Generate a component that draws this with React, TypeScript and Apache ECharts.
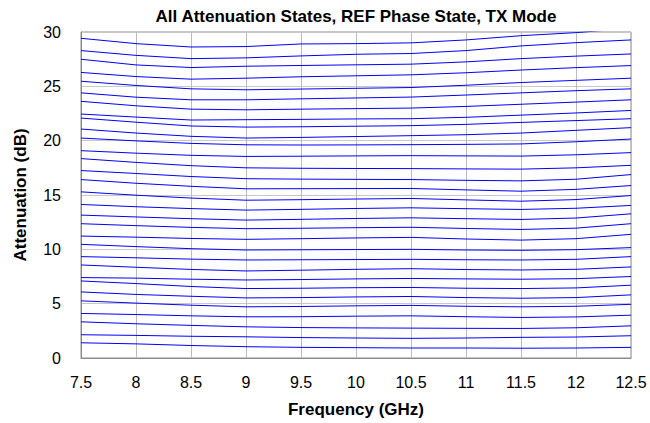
import React, { useEffect, useRef } from "react";
import * as echarts from "echarts";

// Frequency points (GHz)
const FREQS = [7.5, 8, 8.5, 9, 9.5, 10, 10.5, 11, 11.5, 12, 12.5];

// Attenuation (dB) per attenuation state, read at each frequency point
const s00 = [1.4, 1.3, 1.15, 1.04, 0.98, 0.95, 0.92, 0.92, 0.9, 0.92, 0.98];
const s01 = [2.14, 2.08, 2.0, 1.95, 1.88, 1.84, 1.81, 1.84, 1.9, 1.93, 2.05];
const s02 = [3.33, 3.15, 3.0, 2.87, 2.8, 2.77, 2.75, 2.73, 2.72, 2.78, 2.96];
const s03 = [4.1, 4.0, 3.88, 3.79, 3.8, 3.85, 3.88, 3.8, 3.73, 3.78, 3.94];
const s04 = [5.26, 5.05, 4.86, 4.71, 4.74, 4.8, 4.84, 4.76, 4.71, 4.76, 4.94];
const s05 = [6.08, 5.85, 5.68, 5.53, 5.56, 5.62, 5.66, 5.56, 5.5, 5.56, 5.81];
const s06 = [7.09, 6.85, 6.58, 6.39, 6.42, 6.47, 6.49, 6.42, 6.39, 6.45, 6.7];
const s07 = [7.4, 7.35, 7.25, 7.18, 7.22, 7.28, 7.32, 7.28, 7.25, 7.3, 7.5];
const s08 = [8.56, 8.35, 8.15, 8.01, 8.08, 8.16, 8.22, 8.14, 8.1, 8.16, 8.38];
const s09 = [9.33, 9.22, 9.1, 9.02, 9.04, 9.06, 9.08, 9.04, 9.02, 9.08, 9.33];
const s10 = [10.46, 10.25, 10.06, 9.94, 9.96, 9.98, 10.0, 9.94, 9.91, 9.97, 10.16];
const s11 = [11.22, 11.12, 11.0, 10.92, 10.98, 11.05, 11.1, 10.95, 10.85, 10.98, 11.38];
const s12 = [12.36, 12.18, 12.02, 11.9, 11.94, 11.99, 12.03, 11.92, 11.83, 11.95, 12.36];
const s13 = [13.15, 12.98, 12.82, 12.69, 12.76, 12.84, 12.9, 12.82, 12.75, 12.88, 13.27];
const s14 = [14.13, 13.92, 13.75, 13.61, 13.68, 13.76, 13.82, 13.74, 13.67, 13.78, 14.04];
const s15 = [15.29, 14.98, 14.72, 14.52, 14.57, 14.63, 14.68, 14.55, 14.43, 14.58, 14.95];
const s16 = [16.42, 16.08, 15.8, 15.57, 15.58, 15.59, 15.6, 15.47, 15.35, 15.52, 15.87];
const s17 = [17.25, 16.98, 16.7, 16.5, 16.46, 16.44, 16.42, 16.35, 16.3, 16.45, 16.88];
const s18 = [18.35, 18.0, 17.7, 17.5, 17.46, 17.44, 17.43, 17.4, 17.38, 17.5, 17.73];
const s19 = [19.08, 18.85, 18.65, 18.55, 18.57, 18.6, 18.62, 18.6, 18.58, 18.7, 18.9];
const s20 = [20.24, 19.98, 19.75, 19.62, 19.6, 19.61, 19.63, 19.66, 19.7, 19.9, 20.15];
const s21 = [21.07, 20.7, 20.4, 20.24, 20.3, 20.38, 20.46, 20.55, 20.7, 20.95, 21.2];
const s22 = [22.08, 21.7, 21.35, 21.25, 21.28, 21.33, 21.38, 21.5, 21.68, 21.85, 22.02];
const s23 = [22.45, 22.17, 21.9, 21.93, 21.96, 22.0, 22.02, 22.15, 22.35, 22.55, 22.78];
const s24 = [23.62, 23.21, 22.9, 22.84, 22.9, 22.95, 23.0, 23.15, 23.35, 23.55, 23.76];
const s25 = [24.4, 24.0, 23.76, 23.76, 23.85, 23.93, 24.01, 24.2, 24.4, 24.6, 24.77];
const s26 = [25.47, 25.08, 24.77, 24.68, 24.75, 24.82, 24.89, 25.1, 25.35, 25.55, 25.75];
const s27 = [26.28, 25.9, 25.66, 25.75, 25.88, 25.97, 26.06, 26.25, 26.5, 26.72, 26.91];
const s28 = [27.49, 26.97, 26.73, 26.85, 26.92, 26.98, 27.04, 27.25, 27.55, 27.78, 27.98];
const s29 = [28.29, 27.85, 27.55, 27.62, 27.8, 27.95, 28.02, 28.29, 28.72, 29.02, 29.27];
const s30 = [29.42, 28.93, 28.62, 28.66, 28.9, 28.93, 29.0, 29.27, 29.66, 29.94, 30.35];

const STATES = [
  s00, s01, s02, s03, s04, s05, s06, s07, s08, s09, s10,
  s11, s12, s13, s14, s15, s16, s17, s18, s19, s20,
  s21, s22, s23, s24, s25, s26, s27, s28, s29, s30,
];

const TITLE = "All Attenuation States, REF Phase State, TX Mode";
const X_NAME = "Frequency (GHz)";
const Y_NAME = "Attenuation (dB)";
const FONT = "'Liberation Sans', Arial, Helvetica, sans-serif";

export default function App() {
  const ref = useRef<HTMLDivElement>(null);

  useEffect(() => {
    if (!ref.current) return;
    const chart = echarts.init(ref.current, undefined, { renderer: "svg" });
    const series = STATES.map((vals, i) => ({
      name: `State ${i}`,
      type: "line",
      data: FREQS.map((f, j) => [f, vals[j]]),
      showSymbol: false,
      symbol: "none",
      clip: true,
      lineStyle: { color: "#0000ff", width: 1 },
      itemStyle: { color: "#0000ff" },
      emphasis: { disabled: true },
      z: 3,
    }));
    chart.setOption({
      animation: false,
      backgroundColor: "#ffffff",
      textStyle: { fontFamily: FONT },
      grid: {
        left: 81,
        right: 19,
        top: 32,
        bottom: 64,
        show: true,
        borderColor: "#8c8c8c",
        borderWidth: 1,
        backgroundColor: "transparent",
      },
      graphic: [
        {
          type: "text",
          x: 356,
          y: 16,
          style: {
            text: TITLE,
            fontSize: 17,
            fontWeight: "bold",
            fontFamily: FONT,
            fill: "#000",
            align: "center",
            verticalAlign: "middle",
            textAlign: "center",
            textVerticalAlign: "middle",
          },
        },
      ],
      xAxis: {
        type: "value",
        min: 7.5,
        max: 12.5,
        interval: 0.5,
        name: X_NAME,
        nameLocation: "middle",
        nameGap: 43,
        nameTextStyle: { fontSize: 17, fontWeight: "bold", color: "#000", fontFamily: FONT },
        axisLine: { show: true, lineStyle: { color: "#8c8c8c" } },
        axisTick: { show: false },
        axisLabel: { fontSize: 16, color: "#000", margin: 16, fontFamily: FONT },
        splitLine: { show: true, lineStyle: { color: "#bdbdbd", width: 1 } },
      },
      yAxis: {
        type: "value",
        min: 0,
        max: 30,
        interval: 5,
        name: Y_NAME,
        nameLocation: "middle",
        nameGap: 52,
        nameRotate: 90,
        nameTextStyle: { fontSize: 17, fontWeight: "bold", color: "#000", fontFamily: FONT },
        axisLine: { show: true, lineStyle: { color: "#8c8c8c" } },
        axisTick: { show: false },
        axisLabel: { fontSize: 16, color: "#000", margin: 20, fontFamily: FONT },
        splitLine: { show: true, lineStyle: { color: "#c8c8c8", width: 1 } },
      },
      series,
    });
    return () => chart.dispose();
  }, []);

  return (
    <div
      ref={ref}
      style={{ position: "fixed", left: 0, top: 0, width: 650, height: 423, background: "#fff" }}
    />
  );
}
